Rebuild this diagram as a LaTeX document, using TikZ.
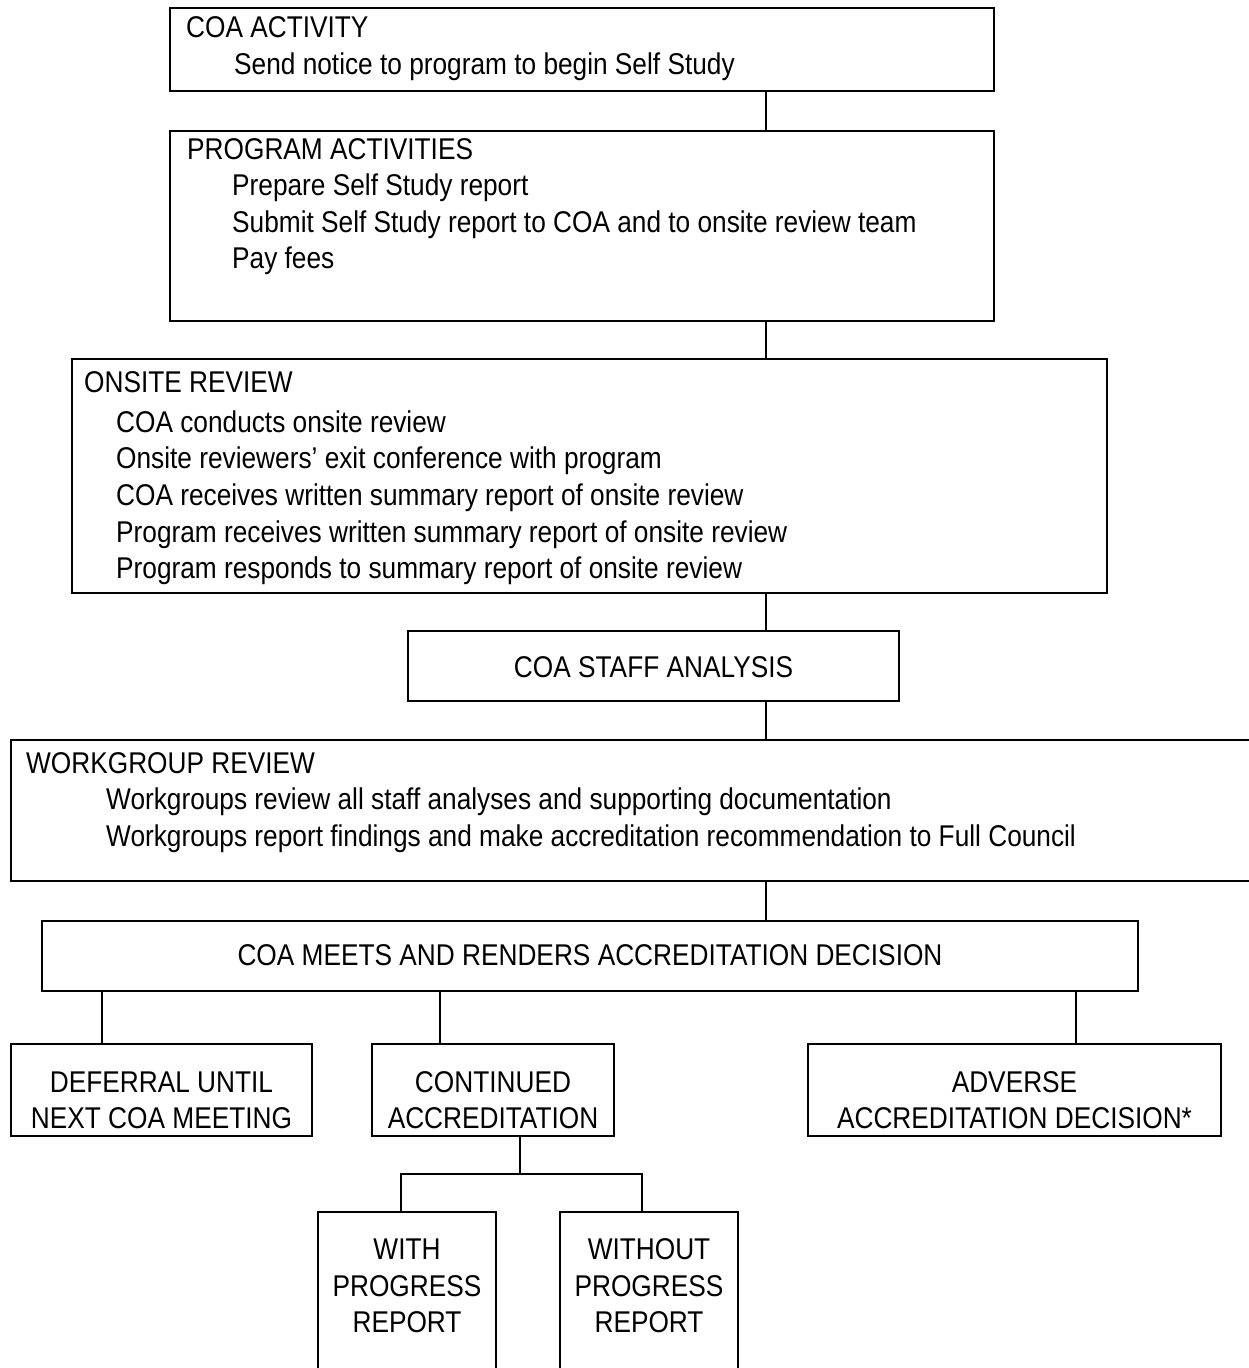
\documentclass[tikz,border=0pt]{standalone}
\usepackage{fontspec}
\setmainfont{Liberation Sans}[FakeStretch=0.875]
\begin{document}
\begin{tikzpicture}[x=1pt,y=-1pt,
  box/.style={draw,line width=1.1pt,anchor=north west,inner sep=0pt,outer sep=0pt},
  txt/.style={anchor=base west,inner sep=0pt,font=\fontsize{30}{36.7}\selectfont},
  ctxt/.style={anchor=base,inner sep=0pt,font=\fontsize{30}{36.7}\selectfont},
  conn/.style={line width=1.1pt}]
\useasboundingbox (0,0) rectangle (1249,1368);
\clip (0,0) rectangle (1249,1368);
\coordinate (spine) at (766,0);
% boxes
\node[box,minimum width=824pt,minimum height=83pt] (b1) at (170,8) {};
\node[box,minimum width=824pt,minimum height=190pt] (b2) at (170,131) {};
\node[box,minimum width=1035pt,minimum height=234pt] (b3) at (72,359) {};
\node[box,minimum width=491pt,minimum height=70pt] (b4) at (408,631) {};
\node[box,minimum width=1260pt,minimum height=141pt] (b5) at (11,740) {};
\node[box,minimum width=1096pt,minimum height=70pt] (b6) at (42,921) {};
\node[box,minimum width=301pt,minimum height=92pt] (d1) at (11,1044) {};
\node[box,minimum width=242pt,minimum height=92pt] (d2) at (372,1044) {};
\node[box,minimum width=413pt,minimum height=92pt] (d3) at (808,1044) {};
\node[box,minimum width=178pt,minimum height=200pt] (e1) at (318,1212) {};
\node[box,minimum width=178pt,minimum height=200pt] (e2) at (560,1212) {};
% texts
\node[txt] (t1a) at (186,37) {COA ACTIVITY};
\node[txt] (t1b) at (234,74) {Send notice to program to begin Self Study};
\node[txt] (t2a) at (187,159) {PROGRAM ACTIVITIES};
\node[txt] (t2b) at (232,195) {Prepare Self Study report};
\node[txt] (t2c) at (232,232) {Submit Self Study report to COA and to onsite review team};
\node[txt] (t2d) at (232,268) {Pay fees};
\node[txt] (t3a) at (84,392) {ONSITE REVIEW};
\node[txt] (t3b) at (116,432) {COA conducts onsite review};
\node[txt] (t3c) at (116,468) {Onsite reviewers’ exit conference with program};
\node[txt] (t3d) at (116,505) {COA receives written summary report of onsite review};
\node[txt] (t3e) at (116,542) {Program receives written summary report of onsite review};
\node[txt] (t3f) at (116,578) {Program responds to summary report of onsite review};
\node[ctxt] (t4) at (653.5,677) {COA STAFF ANALYSIS};
\node[txt] (t5a) at (26,773) {WORKGROUP REVIEW};
\node[txt] (t5b) at (106,809) {Workgroups review all staff analyses and supporting documentation};
\node[txt] (t5c) at (106,846) {Workgroups report findings and make accreditation recommendation to Full Council};
\node[ctxt] (t6) at (590,965) {COA MEETS AND RENDERS ACCREDITATION DECISION};
\node[ctxt] (td1a) at (161.5,1092) {DEFERRAL UNTIL};
\node[ctxt] (td1b) at (161.5,1128) {NEXT COA MEETING};
\node[ctxt] (td2a) at (493,1092) {CONTINUED};
\node[ctxt] (td2b) at (493,1128) {ACCREDITATION};
\node[ctxt] (td3a) at (1014.5,1092) {ADVERSE};
\node[ctxt] (td3b) at (1014.5,1128) {ACCREDITATION DECISION*};
\node[ctxt] (te1a) at (407,1259) {WITH};
\node[ctxt] (te1b) at (407,1296) {PROGRESS};
\node[ctxt] (te1c) at (407,1332) {REPORT};
\node[ctxt] (te2a) at (649,1259) {WITHOUT};
\node[ctxt] (te2b) at (649,1296) {PROGRESS};
\node[ctxt] (te2c) at (649,1332) {REPORT};
% connectors
\draw[conn] (b1.south -| spine) -- (b2.north -| spine);
\draw[conn] (b2.south -| spine) -- (b3.north -| spine);
\draw[conn] (b3.south -| spine) -- (b4.north -| spine);
\draw[conn] (b4.south -| spine) -- (b5.north -| spine);
\draw[conn] (b5.south -| spine) -- (b6.north -| spine);
\coordinate (k1) at (102,0);
\coordinate (k2) at (440,0);
\coordinate (k3) at (1076,0);
\draw[conn] (b6.south -| k1) -- (d1.north -| k1);
\draw[conn] (b6.south -| k2) -- (d2.north -| k2);
\draw[conn] (b6.south -| k3) -- (d3.north -| k3);
\coordinate (split) at (520,1174);
\coordinate (m1) at (401,0);
\coordinate (m2) at (642,0);
\draw[conn] (d2.south -| split) -- (split);
\draw[conn] (e1.north -| m1) |- (split) -| (e2.north -| m2);
\end{tikzpicture}
\end{document}
